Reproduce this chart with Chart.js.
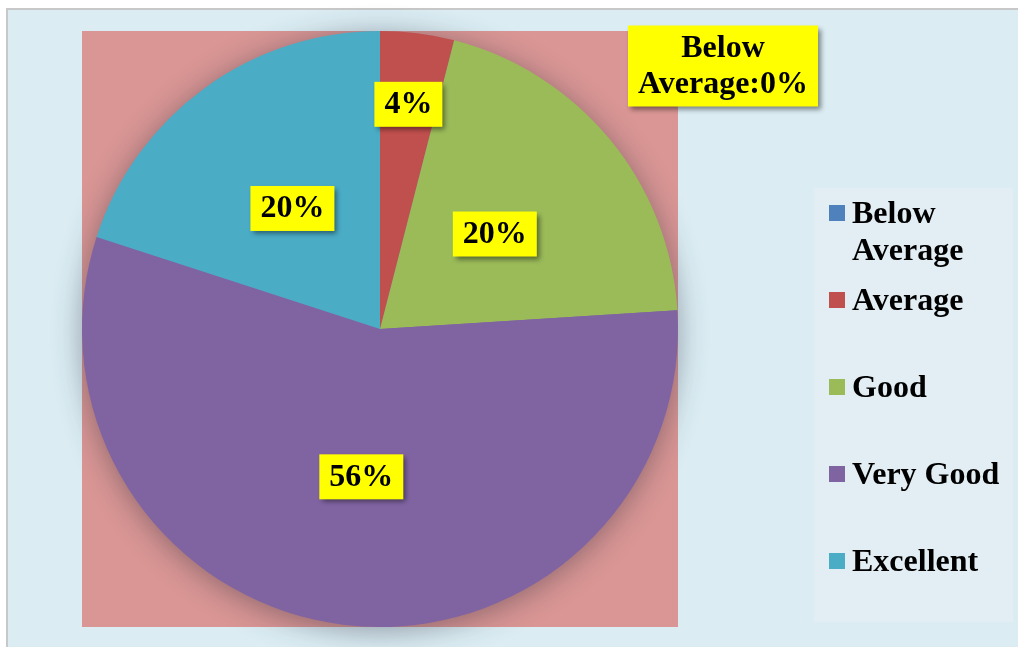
<!DOCTYPE html>
<html>
<head>
<meta charset="utf-8">
<title>Rating pie</title>
<script src="https://cdn.jsdelivr.net/npm/chart.js@4/dist/chart.umd.min.js"></script>
<style>
  html, body { margin: 0; padding: 0; background: #fff; overflow: hidden; }
  canvas { display: block; }
</style>
</head>
<body>
<canvas id="myChart" width="1018" height="647"></canvas>
<script>
// data
const categories = ['Below Average', 'Average', 'Good', 'Very Good', 'Excellent'];
const shares = [0, 4, 20, 56, 20];
const sliceColors = ['#4F81BD', '#C0504D', '#9BBB59', '#8064A2', '#4BACC6'];

const FONT = 'bold 32px "Liberation Serif", "Times New Roman", serif';

// label sits further out on thin slices
const labelRadius = { 'Average': 0.76 };

function wrapText(ctx, text, maxW) {
  const words = text.split(' ');
  const lines = [];
  let cur = '';
  for (let w of words) {
    const test = cur ? cur + ' ' + w : w;
    if (cur && ctx.measureText(test).width > maxW) {
      lines.push(cur);
      cur = w;
    } else {
      cur = test;
    }
  }
  if (cur) lines.push(cur);
  return lines;
}

function yellowBox(ctx, lines, cx, cy) {
  ctx.font = FONT;
  const lh = 36;
  let w = 0;
  for (let l of lines) w = Math.max(w, ctx.measureText(l).width);
  const bw = w + 20;
  const bh = lines.length * lh + 9;
  const x = cx - bw / 2;
  const y = cy - bh / 2;
  ctx.save();
  ctx.shadowColor = 'rgba(0,0,0,0.45)';
  ctx.shadowBlur = 5;
  ctx.shadowOffsetX = 3;
  ctx.shadowOffsetY = 3;
  ctx.fillStyle = '#FFFF00';
  ctx.fillRect(x, y, bw, bh);
  ctx.restore();
  ctx.fillStyle = '#000';
  ctx.textAlign = 'center';
  ctx.textBaseline = 'middle';
  lines.forEach(function(l, i) {
    ctx.fillText(l, cx, y + 4 + lh * i + lh / 2 + 1);
  });
}

const backdrop = {
  id: 'backdrop',
  beforeDraw(chart) {
    const ctx = chart.ctx;
    const a = chart.chartArea;
    ctx.save();
    ctx.fillStyle = '#fff';
    ctx.fillRect(0, 0, chart.width, chart.height);
    ctx.fillStyle = '#C8C8C8';
    ctx.fillRect(6, 8, chart.width - 6, chart.height - 8);
    ctx.fillStyle = '#DBEDF3';
    ctx.fillRect(8, 10, chart.width - 8, chart.height - 10);
    // plot area
    ctx.fillStyle = '#D99694';
    ctx.fillRect(a.left, a.top, a.right - a.left, a.bottom - a.top);
    // legend panel
    ctx.fillStyle = '#E2EEF3';
    ctx.fillRect(814, 188, 199, 434);
    ctx.restore();
  },
  beforeDatasetsDraw(chart) {
    const arc = chart.getDatasetMeta(0).data[0];
    const ctx = chart.ctx;
    ctx.save();
    ctx.shadowColor = 'rgba(40,40,60,0.45)';
    ctx.shadowBlur = 30;
    ctx.shadowOffsetY = 4;
    ctx.fillStyle = '#8064A2';
    ctx.beginPath();
    ctx.arc(arc.x, arc.y, arc.outerRadius - 1, 0, Math.PI * 2);
    ctx.fill();
    ctx.restore();
  },
  afterDraw(chart) {
    const ctx = chart.ctx;
    const meta = chart.getDatasetMeta(0);
    const a = chart.chartArea;
    const total = shares.reduce((s, v) => s + v, 0);
    ctx.save();
    meta.data.forEach(function(arc, i) {
      const pct = Math.round(shares[i] / total * 100) + '%';
      if (shares[i] === 0) {
        ctx.font = FONT;
        yellowBox(ctx, wrapText(ctx, categories[i] + ':' + pct, 190), a.right + 45, a.top + 35);
        return;
      }
      const mid = (arc.startAngle + arc.endAngle) / 2;
      const r = arc.outerRadius * (labelRadius[categories[i]] || 0.5);
      yellowBox(ctx, [pct], arc.x + Math.cos(mid) * r, arc.y + Math.sin(mid) * r);
    });

    // legend
    ctx.font = FONT;
    ctx.textAlign = 'left';
    ctx.textBaseline = 'middle';
    categories.forEach(function(name, i) {
      const y = 213 + 87 * i;
      ctx.fillStyle = sliceColors[i];
      ctx.fillRect(829, y - 8, 16, 16);
      ctx.fillStyle = '#000';
      wrapText(ctx, name, 158).forEach(function(l, j) {
        ctx.fillText(l, 852, y + 2 + j * 37);
      });
    });
    ctx.restore();
  }
};

const ctx = document.getElementById('myChart').getContext('2d');
// eslint-disable-next-line no-undef
const chart = new Chart(ctx, {
  type: 'pie',
  data: {
    labels: categories,
    datasets: [{
      data: shares,
      backgroundColor: sliceColors,
      borderWidth: 0
    }]
  },
  options: {
    responsive: false,
    animation: false,
    devicePixelRatio: 1,
    layout: { padding: { left: 82, top: 31, right: 340, bottom: 20 } },
    plugins: {
      legend: { display: false },
      tooltip: { enabled: false }
    }
  },
  plugins: [backdrop]
});
</script>
</body>
</html>
